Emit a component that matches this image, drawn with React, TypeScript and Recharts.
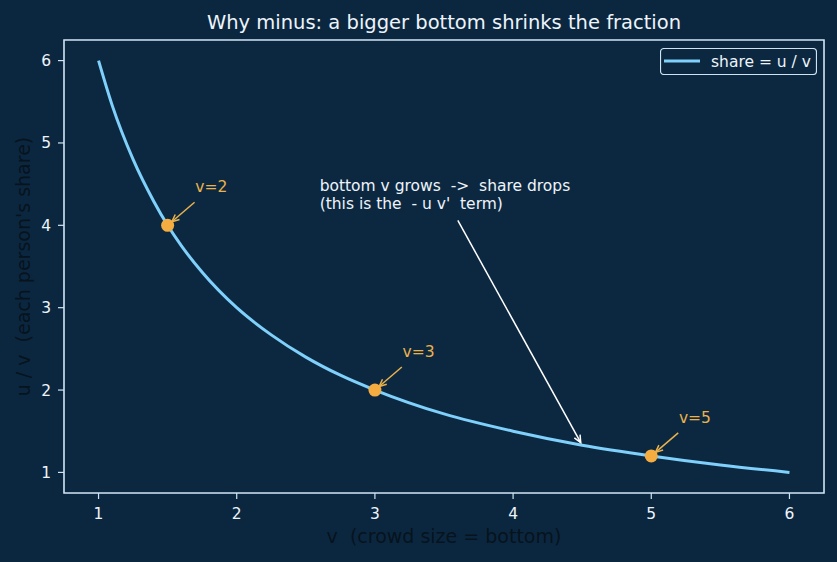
import React from "react";
import {
  ComposedChart,
  Line,
  Scatter,
  XAxis,
  YAxis,
  CartesianGrid,
  ReferenceArea,
  ReferenceLine,
  ReferenceDot,
  Legend,
  Customized,
} from "recharts";

// share = u / v sampled along the crowd size axis
const curveV = [1, 1.1, 1.25, 1.4, 1.5, 1.6, 1.75, 2, 2.25, 2.5, 2.75, 3, 3.5, 4, 4.5, 5, 5.5, 6];
const curveShare = [6, 5.45, 4.8, 4.29, 4, 3.75, 3.43, 3, 2.67, 2.4, 2.18, 2, 1.71, 1.5, 1.33, 1.2, 1.09, 1];

// highlighted points and their callouts
const markerV = [1.5, 3, 5];
const markerShare = [4, 2, 1.2];
const markerText = ["v=2", "v=3", "v=5"];
const markerTextV = [1.7, 3.2, 5.2];
const markerTextShare = [4.4, 2.4, 1.6];

// the long note and its arrow
const noteLines = ["bottom v grows  ->  share drops", "(this is the  - u v'  term)"];
const noteV = 2.6;
const noteShare = 4.2;
const noteArrowFrom = { v: 3.6, share: 4.06 };
const noteArrowTo = { v: 4.5, share: 1.33 };

const ticks = [1, 2, 3, 4, 5, 6];
const domain: [number, number] = [0.75, 6.25];

const seriesName = "share = u / v";
const titleText = "Why minus: a bigger bottom shrinks the fraction";
const xLabel = "v  (crowd size = bottom)";
const yLabel = "u / v  (each person's share)";

const FONT = "DejaVu Sans";
const BG = "#0b2740";
const AX_BG = "#0c2841";
const SPINE = "#cfe4f3";
const CURVE = "#7fd0fb";
const ORANGE = "#f5ad42";
const LABEL_ORANGE = "#eab24c";
const TEXT = "#eef4fa";

const curveData = curveV.map((v, i) => ({ v, share: curveShare[i] }));
const markerData = markerV.map((v, i) => ({ v, share: markerShare[i] }));

function Arrow(props: any) {
  const { x1, y1, x2, y2, color, dx0 = 0, dy0 = 0, shrink = 0 } = props;
  const sx = x1 + dx0;
  const sy = y1 + dy0;
  const len = Math.hypot(x2 - sx, y2 - sy);
  const ux = (x2 - sx) / len;
  const uy = (y2 - sy) / len;
  const tx = x2 - ux * shrink;
  const ty = y2 - uy * shrink;
  const head = 8;
  const a = 0.42;
  const bx = -ux;
  const by = -uy;
  const w1x = tx + head * (bx * Math.cos(a) - by * Math.sin(a));
  const w1y = ty + head * (bx * Math.sin(a) + by * Math.cos(a));
  const w2x = tx + head * (bx * Math.cos(-a) - by * Math.sin(-a));
  const w2y = ty + head * (bx * Math.sin(-a) + by * Math.cos(-a));
  return (
    <g>
      <line x1={sx} y1={sy} x2={tx} y2={ty} stroke={color} strokeWidth={1.5} />
      <polyline
        points={`${w1x},${w1y} ${tx},${ty} ${w2x},${w2y}`}
        fill="none"
        stroke={color}
        strokeWidth={1.5}
      />
    </g>
  );
}

const XTitle = (props: any) => {
  const { x, y, width } = props.viewBox;
  return (
    <text
      x={x + width / 2}
      y={y + 50}
      textAnchor="middle"
      fontFamily={FONT}
      fontSize={19}
      fill="#07131d"
      style={{ whiteSpace: "pre" }}
    >
      {xLabel}
    </text>
  );
};

const YTitle = (props: any) => {
  const { x, y, height } = props.viewBox;
  const cx = x + 25.5;
  const cy = y + height / 2;
  return (
    <text
      x={cx}
      y={cy}
      transform={`rotate(-90, ${cx}, ${cy})`}
      textAnchor="middle"
      fontFamily={FONT}
      fontSize={19}
      fill="#07131d"
      style={{ whiteSpace: "pre" }}
    >
      {yLabel}
    </text>
  );
};

const Title = () => (
  <text x={444} y={29} textAnchor="middle" fontFamily={FONT} fontSize={19.5} fill={TEXT}>
    {titleText}
  </text>
);

const renderLegend = (props: any) => {
  const items = (props.payload || []).filter((p: any) => p.type !== "none");
  return (
    <svg width={157} height={27}>
      <rect x={0.5} y={0.5} width={156} height={26} rx={3.5} fill={AX_BG} stroke={SPINE} strokeWidth={1.2} />
      {items.map((p: any, i: number) => (
        <g key={i}>
          <line x1={4} y1={13} x2={40} y2={13} stroke={p.color} strokeWidth={3} />
          <text x={51} y={18.6} fontFamily={FONT} fontSize={15.5} fill={TEXT}>
            {p.value}
          </text>
        </g>
      ))}
    </svg>
  );
};

export default function App() {
  const tickStyle = { fill: TEXT, fontSize: 15.5, fontFamily: FONT };
  return (
    <div style={{ position: "absolute", left: 0, top: 0, width: 837, height: 562, background: BG }}>
      <ComposedChart width={837} height={562} margin={{ top: 40, right: 13, bottom: 9, left: 4 }}>
        <ReferenceArea x1={domain[0]} x2={domain[1]} y1={domain[0]} y2={domain[1]} fill={AX_BG} fillOpacity={1} stroke="none" />
        <CartesianGrid stroke="#ffffff" strokeOpacity={0.2} strokeWidth={0.8} />
        <XAxis
          type="number"
          dataKey="v"
          domain={domain}
          ticks={ticks}
          allowDataOverflow
          height={60}
          axisLine={false}
          tickSize={6}
          tickMargin={9}
          tickLine={{ stroke: SPINE, strokeWidth: 1.2 }}
          tick={tickStyle}
          label={{ content: XTitle }}
        />
        <YAxis
          type="number"
          dataKey="share"
          domain={domain}
          ticks={ticks}
          allowDataOverflow
          width={60}
          axisLine={false}
          tickSize={6}
          tickMargin={7}
          tickLine={{ stroke: SPINE, strokeWidth: 1.2 }}
          tick={tickStyle}
          label={{ content: YTitle }}
        />
        <ReferenceArea
          x1={domain[0]}
          x2={domain[1]}
          y1={domain[0]}
          y2={domain[1]}
          fill="none"
          stroke={SPINE}
          strokeWidth={1.6}
        />
        <Line
          data={curveData}
          dataKey="share"
          name={seriesName}
          type="monotone"
          stroke={CURVE}
          strokeWidth={3}
          dot={false}
          activeDot={false}
          isAnimationActive={false}
        />
        <Scatter
          data={markerData}
          dataKey="share"
          legendType="none"
          isAnimationActive={false}
          shape={(p: any) => <circle cx={p.cx} cy={p.cy} r={6.5} fill={ORANGE} />}
        />
        {markerV.map((v, i) => (
          <ReferenceLine
            key={`arrow-${i}`}
            segment={[
              { x: markerTextV[i], y: markerTextShare[i] },
              { x: v, y: markerShare[i] },
            ]}
            shape={(p: any) => <Arrow {...p} color={LABEL_ORANGE} dx0={-0.7} dy0={9.9} shrink={5.5} />}
          />
        ))}
        {markerV.map((v, i) => (
          <ReferenceDot
            key={`label-${i}`}
            x={markerTextV[i]}
            y={markerTextShare[i]}
            r={0}
            shape={(p: any) => (
              <text x={p.cx} y={p.cy} fontFamily={FONT} fontSize={15.5} fill={LABEL_ORANGE}>
                {markerText[i]}
              </text>
            )}
          />
        ))}
        <ReferenceLine
          segment={[
            { x: noteArrowFrom.v, y: noteArrowFrom.share },
            { x: noteArrowTo.v, y: noteArrowTo.share },
          ]}
          shape={(p: any) => <Arrow {...p} color="#ffffff" shrink={3} />}
        />
        <ReferenceDot
          x={noteV}
          y={noteShare}
          r={0}
          shape={(p: any) => (
            <text fontFamily={FONT} fontSize={15.5} fill={TEXT} style={{ whiteSpace: "pre" }}>
              {noteLines.map((line, i) => (
                <tspan key={i} x={p.cx} y={p.cy - (noteLines.length - 1 - i) * 17.6}>
                  {line}
                </tspan>
              ))}
            </text>
          )}
        />
        <Legend
          content={renderLegend}
          layout="horizontal"
          align="center"
          verticalAlign="middle"
          wrapperStyle={{ left: 660, top: 48, width: 157, height: 27 }}
        />
        <Customized component={Title} />
      </ComposedChart>
    </div>
  );
}
